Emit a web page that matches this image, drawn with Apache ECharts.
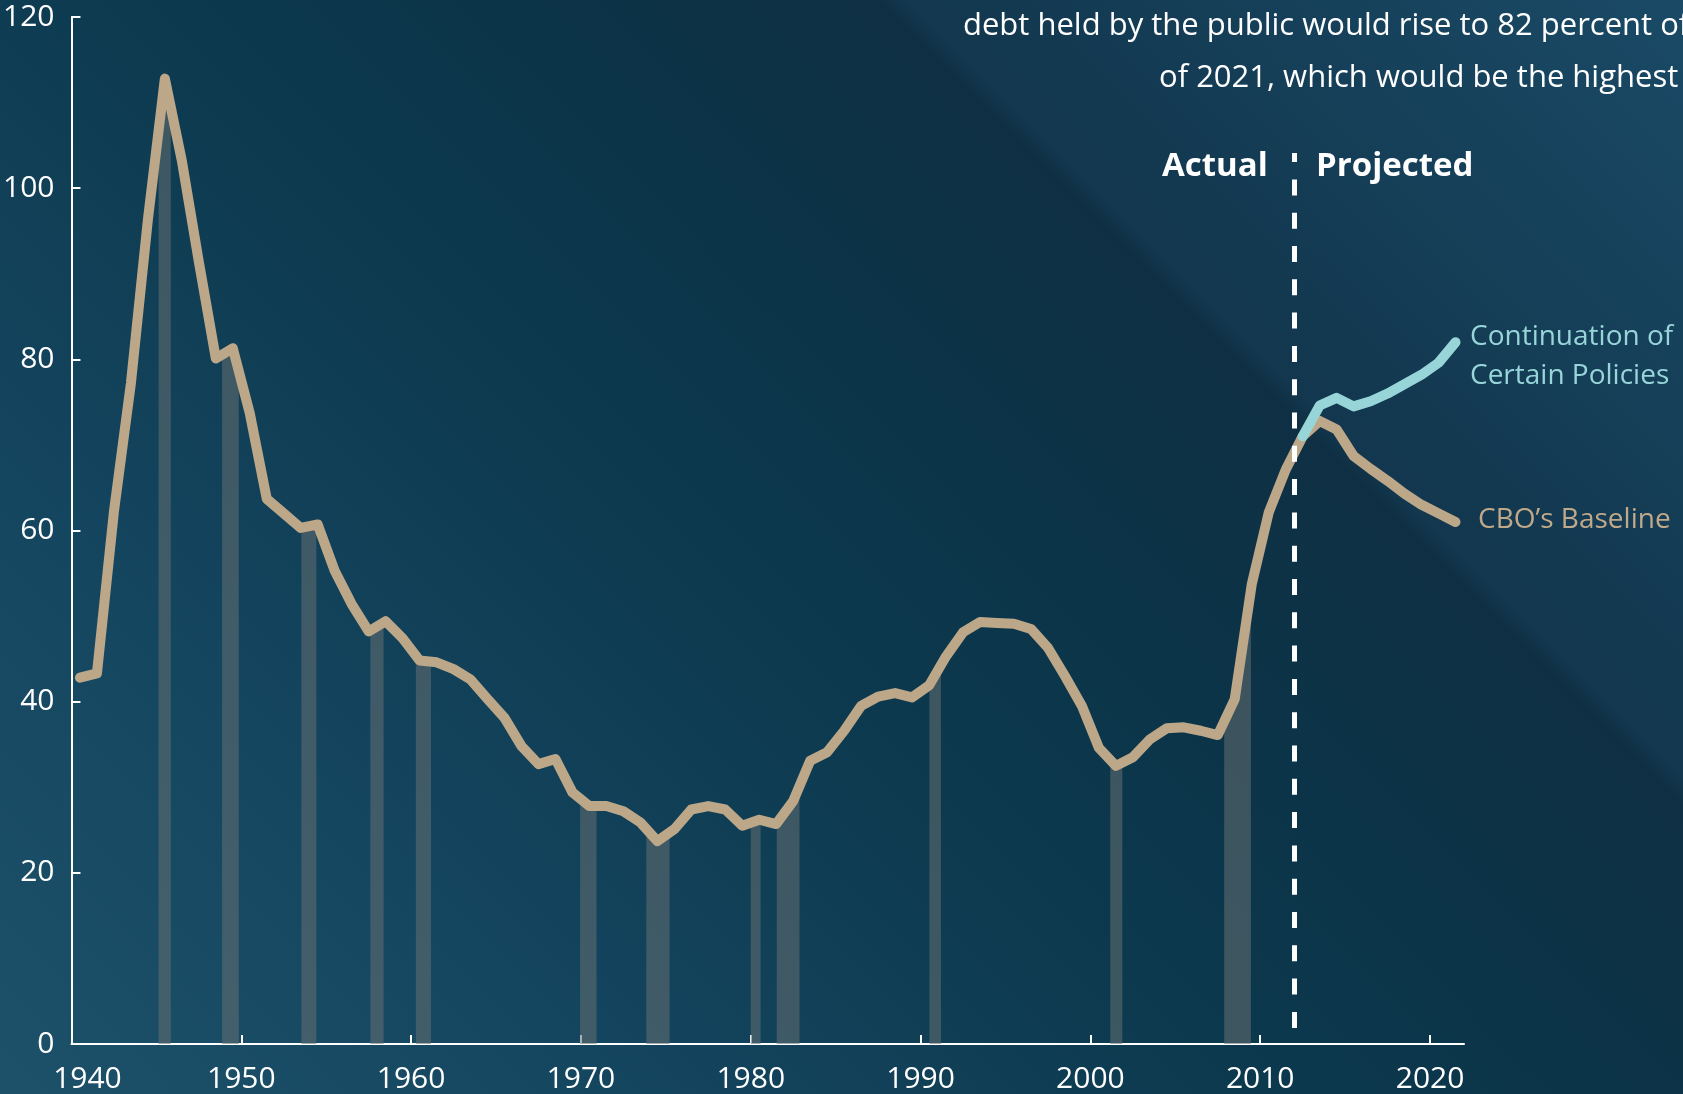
<!DOCTYPE html>
<html>
<head>
<meta charset="utf-8">
<script src="https://cdn.jsdelivr.net/npm/echarts@6/dist/echarts.min.js"></script>
<style>
  html, body { margin: 0; padding: 0; }
  body {
    width: 1683px; height: 1094px; overflow: hidden;
    background: linear-gradient(45deg, #1d5169 0%, #154660 22%, #0c394e 45%, #0c3347 60%, #0f3044 71%, #12374e 72%, #16405a 86%, #1a4a66 100%);
  }
  #chart { width: 1683px; height: 1094px; }
</style>
</head>
<body>
<div id="chart"></div>
<script>
// debt held by the public, percent of GDP
var years = [
  1940, 1941, 1942, 1943, 1944, 1945, 1946, 1947, 1948, 1949,
  1950, 1951, 1952, 1953, 1954, 1955, 1956, 1957, 1958, 1959,
  1960, 1961, 1962, 1963, 1964, 1965, 1966, 1967, 1968, 1969,
  1970, 1971, 1972, 1973, 1974, 1975, 1976, 1977, 1978, 1979,
  1980, 1981, 1982, 1983, 1984, 1985, 1986, 1987, 1988, 1989,
  1990, 1991, 1992, 1993, 1994, 1995, 1996, 1997, 1998, 1999,
  2000, 2001, 2002, 2003, 2004, 2005, 2006, 2007, 2008, 2009,
  2010, 2011, 2012, 2013, 2014, 2015, 2016, 2017, 2018, 2019,
  2020, 2021
];
var baseline = [
  42.8, 43.3, 62.2, 77.2, 96.3, 112.8, 103.2, 91.4, 80.1, 81.3,
  73.7, 63.7, 62.0, 60.3, 60.7, 55.3, 51.4, 48.2, 49.4, 47.4,
  44.8, 44.6, 43.8, 42.6, 40.3, 38.1, 34.8, 32.7, 33.3, 29.4,
  27.8, 27.8, 27.2, 25.9, 23.7, 25.1, 27.4, 27.8, 27.4, 25.5,
  26.2, 25.7, 28.4, 33.1, 34.1, 36.6, 39.5, 40.6, 41.0, 40.5,
  41.9, 45.3, 48.1, 49.3, 49.2, 49.1, 48.5, 46.3, 43.0, 39.5,
  34.6, 32.5, 33.5, 35.6, 36.9, 37.0, 36.6, 36.1, 40.3, 53.7,
  62.1, 67.1, 71.0, 72.8, 71.8, 68.7, 67.2, 65.8, 64.3, 63.0,
  62.0, 61.0
];
var projYears = [2012, 2013, 2014, 2015, 2016, 2017, 2018, 2019, 2020, 2021];
var continuation = [71.0, 74.6, 75.5, 74.5, 75.1, 76.0, 77.1, 78.2, 79.6, 82.0];

// recession periods (start, end) in decimal years
var recessions = [
  [1945.13, 1945.85], [1948.87, 1949.85], [1953.54, 1954.42], [1957.6, 1958.38],
  [1960.28, 1961.17], [1969.95, 1970.92], [1973.85, 1975.22], [1980.0, 1980.58],
  [1981.53, 1982.87], [1990.52, 1991.2], [2001.17, 2001.88], [2007.88, 2009.45]
];

var xLabelYears = [1940, 1950, 1960, 1970, 1980, 1990, 2000, 2010, 2020];
var xTickYears = [1950, 1960, 1970, 1980, 1990, 2000, 2010, 2020];
var projectionStart = 2012;

var FONT = '"Open Sans", "Noto Sans", sans-serif';

// annual values sit in the middle of each year
var basePts = years.map(function (y, i) { return [y + 0.5, baseline[i]]; });
var contPts = projYears.map(function (y, i) { return [y + 0.5, continuation[i]]; });

function lineAt(x) {
  for (var i = 0; i < basePts.length - 1; i++) {
    var a = basePts[i], b = basePts[i + 1];
    if (x >= a[0] && x <= b[0]) {
      return a[1] + (x - a[0]) / (b[0] - a[0]) * (b[1] - a[1]);
    }
  }
  return x < basePts[0][0] ? basePts[0][1] : basePts[basePts.length - 1][1];
}

var chart = echarts.init(document.getElementById('chart'), null, { renderer: 'canvas' });

var option = {
  backgroundColor: 'transparent',
  animation: false,
  grid: { left: 71, right: 219, top: 17, bottom: 49 },
  xAxis: {
    type: 'value',
    min: 1940,
    max: 2022,
    interval: 10,
    splitLine: { show: false },
    axisLine: { lineStyle: { color: '#ffffff', width: 2 } },
    axisTick: { inside: true, length: 9, lineStyle: { color: '#ffffff', width: 2 }, customValues: xTickYears },
    axisLabel: {
      customValues: xLabelYears,
      color: '#ffffff', fontSize: 30, fontFamily: FONT, margin: 20,
      formatter: function (v) { return v === 1940 ? '{first|1940}' : String(v); },
      rich: { first: { padding: [0, 0, 0, 32], color: '#ffffff', fontSize: 30, fontFamily: FONT } }
    }
  },
  yAxis: {
    type: 'value',
    min: 0,
    max: 120,
    interval: 20,
    splitLine: { show: false },
    axisLine: { show: true, lineStyle: { color: '#ffffff', width: 2 } },
    axisTick: { show: true, inside: true, length: 9, lineStyle: { color: '#ffffff', width: 2 } },
    axisLabel: { color: '#ffffff', fontSize: 30, fontFamily: FONT, margin: 17 }
  },
  series: [
    {
      type: 'custom',
      name: 'Recessions',
      data: recessions,
      encode: { x: [0, 1] },
      z: 1,
      silent: true,
      renderItem: function (params, api) {
        var s = api.value(0), e = api.value(1);
        var poly = [api.coord([s, 0]), api.coord([s, lineAt(s)])];
        basePts.forEach(function (p) {
          if (p[0] > s && p[0] < e) poly.push(api.coord(p));
        });
        poly.push(api.coord([e, lineAt(e)]), api.coord([e, 0]));
        return {
          type: 'polygon',
          shape: { points: poly },
          style: { fill: 'rgba(100,110,112,0.56)' }
        };
      }
    },
    {
      type: 'line',
      name: "CBO's Baseline",
      data: basePts,
      showSymbol: false,
      symbol: 'none',
      z: 3,
      lineStyle: { color: '#bca789', width: 10, cap: 'round', join: 'round' },
      markLine: {
        silent: true,
        symbol: 'none',
        label: { show: false },
        z: 6,
        lineStyle: { color: '#ffffff', width: 5, type: [16, 17.3], dashOffset: 7, opacity: 1 },
        data: [[{ coord: [projectionStart, 104.1] }, { coord: [projectionStart, 0] }]]
      }
    },
    {
      type: 'line',
      name: 'Continuation of Certain Policies',
      data: contPts,
      showSymbol: false,
      symbol: 'none',
      z: 4,
      lineStyle: { color: '#98d5d9', width: 10, cap: 'round', join: 'round' }
    }
  ],
  graphic: [
    { type: 'text', style: { x: 963, y: 26, text: 'debt held by the public would rise to 82 percent of', fill: '#ffffff', fontSize: 31, fontFamily: FONT, verticalAlign: 'middle' } },
    { type: 'text', style: { x: 1159, y: 78, text: 'of 2021, which would be the highest', fill: '#ffffff', fontSize: 31, fontFamily: FONT, verticalAlign: 'middle' } },
    { type: 'text', style: { x: 1162, y: 167, text: 'Actual', fill: '#ffffff', fontSize: 33, fontWeight: 'bold', fontFamily: FONT, verticalAlign: 'middle' } },
    { type: 'text', style: { x: 1316, y: 167, text: 'Projected', fill: '#ffffff', fontSize: 33, fontWeight: 'bold', fontFamily: FONT, verticalAlign: 'middle' } },
    { type: 'text', style: { x: 1470, y: 337, text: 'Continuation of', fill: '#98d5d9', fontSize: 28, fontFamily: FONT, verticalAlign: 'middle' } },
    { type: 'text', style: { x: 1470, y: 376, text: 'Certain Policies', fill: '#98d5d9', fontSize: 28, fontFamily: FONT, verticalAlign: 'middle' } },
    { type: 'text', style: { x: 1478, y: 520, text: 'CBO\u2019s Baseline', fill: '#c0a98a', fontSize: 28, fontFamily: FONT, verticalAlign: 'middle' } }
  ]
};

chart.setOption(option);
</script>
</body>
</html>
